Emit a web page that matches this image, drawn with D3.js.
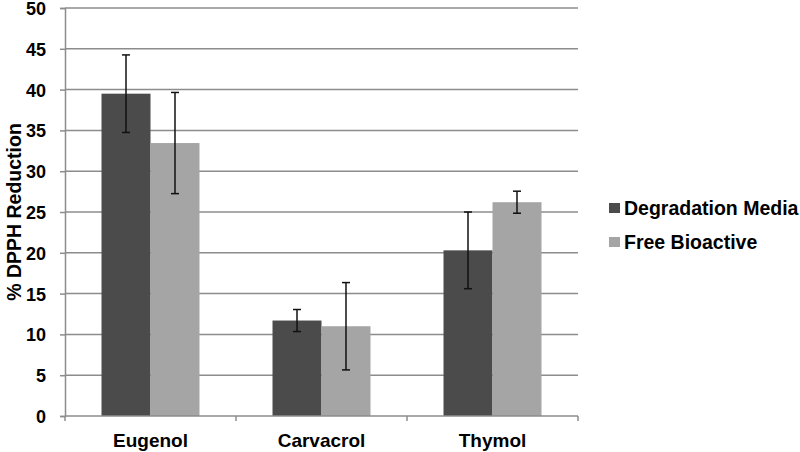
<!DOCTYPE html>
<html>
<head>
<meta charset="utf-8">
<script src="https://cdn.jsdelivr.net/npm/d3@7"></script>
<style>
  body { margin: 0; background: #fff; }
  text { font-family: "Liberation Sans", Arial, sans-serif; font-weight: bold; fill: #000; }
</style>
</head>
<body>
<svg id="chart" width="800" height="452"></svg>
<script>
var categories = ["Eugenol", "Carvacrol", "Thymol"];
var series = ["Degradation Media", "Free Bioactive"];
var degradation = [39.5, 11.7, 20.3];
var degradation_err = [4.75, 1.35, 4.7];
var free = [33.45, 11.0, 26.2];
var free_err = [6.2, 5.35, 1.35];
var y_ticks = [0, 5, 10, 15, 20, 25, 30, 35, 40, 45, 50];
var colors = ["#4b4b4b", "#a5a5a5"];

var svg = d3.select("#chart");

/* margins picked to line the plot up with the picture */
var margin = {top: 8, right: 222, bottom: 36, left: 65},
    width = 800 - margin.left - margin.right,
    height = 452 - margin.top - margin.bottom;

var g = svg.append("g")
    .attr("transform", "translate(" + margin.left + "," + margin.top + ")");

var x0 = d3.scaleBand().domain(categories).range([0, width]).paddingInner(0.427).paddingOuter(0.2135);
var x1 = d3.scaleBand().domain(series).range([0, x0.bandwidth()]);
var y = d3.scaleLinear().domain([0, 50]).range([height, 0]);

/* gridlines */
g.selectAll(".grid")
  .data(y_ticks.slice(1))
  .enter().append("line")
    .attr("x1", 0).attr("x2", width)
    .attr("y1", function(d) { return y(d); })
    .attr("y2", function(d) { return y(d); })
    .attr("stroke", "#8c8c8c")
    .attr("stroke-width", 1.5);

var data = categories.map(function(c, i) {
  return {cat: c, vals: [
    {s: series[0], v: degradation[i], e: degradation_err[i]},
    {s: series[1], v: free[i], e: free_err[i]}
  ]};
});

var groups = g.selectAll(".grp")
  .data(data)
  .enter().append("g")
    .attr("transform", function(d) { return "translate(" + x0(d.cat) + ",0)"; });

groups.selectAll("rect")
  .data(function(d) { return d.vals; })
  .enter().append("rect")
    .attr("x", function(d) { return x1(d.s); })
    .attr("y", function(d) { return y(d.v); })
    .attr("width", x1.bandwidth())
    .attr("height", function(d) { return height - y(d.v); })
    .attr("fill", function(d, i) { return colors[i]; });

/* error bars */
var err = groups.selectAll(".err")
  .data(function(d) { return d.vals; })
  .enter().append("g")
    .attr("transform", function(d) { return "translate(" + (x1(d.s) + x1.bandwidth() / 2) + ",0)"; })
    .attr("stroke", "#111")
    .attr("stroke-width", 1.5);

err.append("line")
    .attr("y1", function(d) { return y(d.v + d.e); })
    .attr("y2", function(d) { return y(d.v - d.e); });
err.append("line")
    .attr("x1", -4).attr("x2", 4)
    .attr("y1", function(d) { return y(d.v + d.e); })
    .attr("y2", function(d) { return y(d.v + d.e); });
err.append("line")
    .attr("x1", -4).attr("x2", 4)
    .attr("y1", function(d) { return y(d.v - d.e); })
    .attr("y2", function(d) { return y(d.v - d.e); });

/* axes */
var yAxis = g.append("g")
    .call(d3.axisLeft(y).tickValues(y_ticks).tickSize(5).tickPadding(14));
yAxis.select(".domain").attr("stroke", "#8c8c8c").attr("stroke-width", 1.5);
yAxis.selectAll(".tick line").attr("stroke", "#8c8c8c").attr("stroke-width", 1.5);
yAxis.selectAll("text").style("font-size", "18px").attr("dy", "0.36em");

var xg = g.append("g").attr("transform", "translate(0," + height + ")");
xg.append("line").attr("x1", 0).attr("x2", width)
    .attr("stroke", "#8c8c8c").attr("stroke-width", 1.5);
xg.selectAll(".xtick")
  .data([0].concat(categories.map(function(c) { return x0(c) + x0.bandwidth() + x0.step() * 0.427 / 2; })))
  .enter().append("line")
    .attr("x1", function(d) { return d; }).attr("x2", function(d) { return d; })
    .attr("y1", 0).attr("y2", 5)
    .attr("stroke", "#8c8c8c").attr("stroke-width", 1.5);
xg.selectAll(".xlab")
  .data(categories)
  .enter().append("text")
    .attr("x", function(d) { return x0(d) + x0.bandwidth() / 2; })
    .attr("y", 31)
    .attr("text-anchor", "middle")
    .style("font-size", "19px")
    .text(function(d) { return d; });

/* y title */
svg.append("text")
    .attr("transform", "translate(21," + (margin.top + height / 2) + ") rotate(-90)")
    .attr("text-anchor", "middle")
    .style("font-size", "19.5px")
    .text("% DPPH Reduction");

/* legend */
var legend = svg.append("g").attr("transform", "translate(609,203)");
var li = legend.selectAll(".li")
  .data(series)
  .enter().append("g")
    .attr("transform", function(d, i) { return "translate(0," + (i * 34) + ")"; });
li.append("rect").attr("width", 11).attr("height", 10)
    .attr("fill", function(d, i) { return colors[i]; });
li.append("text").attr("x", 15).attr("y", 5).attr("dy", "0.36em")
    .style("font-size", "19.5px")
    .text(function(d) { return d; });
</script>
</body>
</html>
